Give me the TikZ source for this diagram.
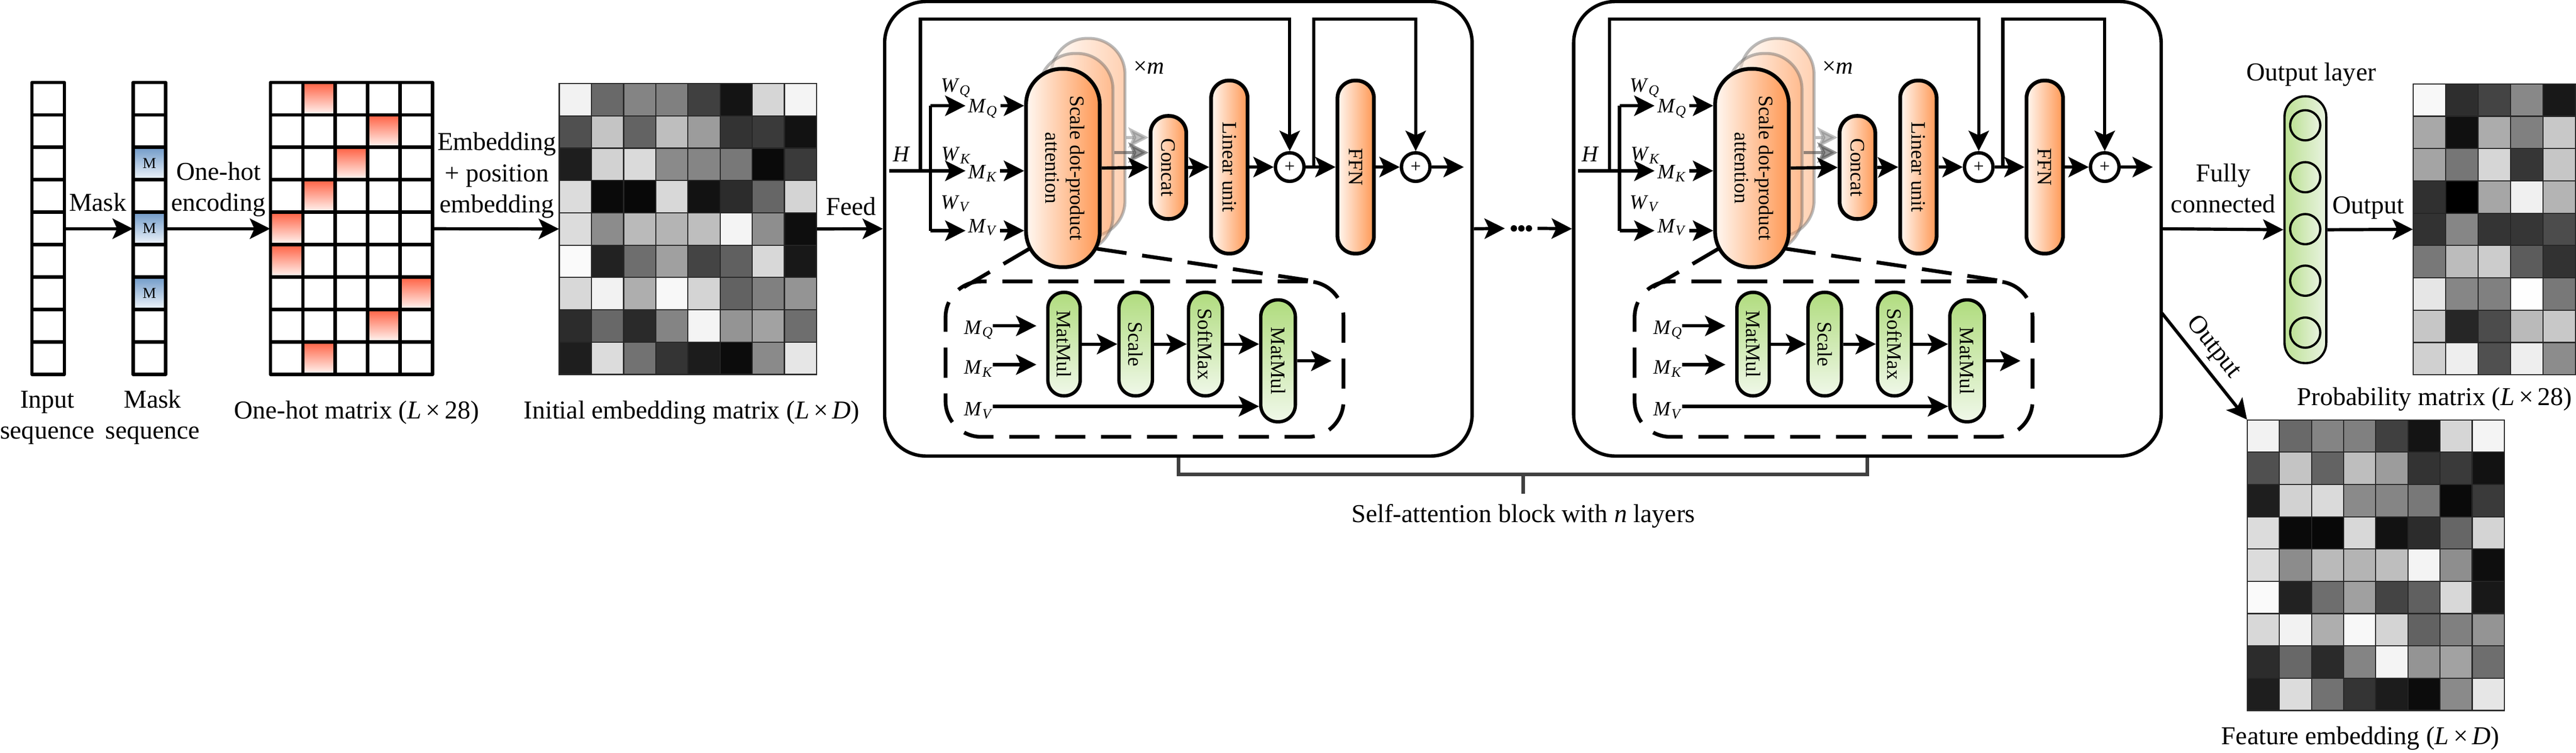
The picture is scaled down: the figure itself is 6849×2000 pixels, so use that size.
\documentclass[tikz,border=0pt]{standalone}
\usepackage{fontspec}
\setmainfont{Liberation Serif}
\usepackage{graphicx}
\usetikzlibrary{arrows.meta}

\definecolor{orangeL}{RGB}{255,248,242}
\definecolor{orangeR}{RGB}{255,152,84}
\definecolor{greenT}{RGB}{176,220,126}
\definecolor{greenB}{RGB}{240,248,233}
\definecolor{greenL}{RGB}{188,225,148}
\definecolor{greenR}{RGB}{233,243,224}
\definecolor{blueT}{RGB}{112,154,200}
\definecolor{blueB}{RGB}{240,245,251}
\definecolor{redT}{RGB}{255,96,66}
\definecolor{redB}{RGB}{255,247,244}
\definecolor{brkgray}{RGB}{64,64,64}

% gray levels, one group per row
\newcommand{\embrows}{{242,105,132,128,64,20,214,244},{80,196,99,190,156,51,58,18},{30,210,218,138,133,120,10,58},{220,10,8,216,18,44,102,212},{220,140,186,180,190,244,142,14},{250,34,110,160,68,96,216,24},{216,242,174,248,212,98,128,148},{44,104,42,132,244,148,162,110},{30,220,114,52,28,12,138,230}}
\newcommand{\probrows}{{248,46,68,136,24},{168,16,172,128,200},{164,118,214,54,198},{48,0,166,240,180},{50,134,52,54,76},{120,188,204,92,50},{230,134,128,254,120},{198,38,76,186,200},{208,238,80,238,140}}

\tikzset{
  cell/.style={draw, line width=0.9mm, line join=round},
  thincell/.style={draw=black!85, line width=0.3mm},
  matbox/.style={inner sep=0, draw=none},
  arr/.style={line width=0.85mm, -{Stealth[length=5.4mm, width=5.4mm, inset=1.2mm]}},
  conn/.style={line width=0.85mm},
  lab/.style={font=\fontsize{19.5}{23.5}\selectfont, inner sep=0, align=center},
  opill/.style={draw, line width=1mm, left color=orangeL, right color=orangeR, inner sep=0, font=\fontsize{15.5}{18.5}\selectfont},
  gpill/.style={draw, line width=0.9mm, top color=greenT, bottom color=greenB, inner sep=0, font=\fontsize{15.5}{18.5}\selectfont},
  ghostpill/.style={draw=gray!80!black, line width=0.8mm, opacity=0.45},
  plusnode/.style={circle, draw, line width=0.9mm, minimum size=7.6mm, inner sep=0, font=\fontsize{14}{14}\selectfont},
  blockbox/.style={draw, line width=0.9mm, rounded corners=11mm, inner sep=0},
  dashbox/.style={draw, line width=1mm, dash pattern=on 8mm off 4.2mm, rounded corners=9.5mm, inner sep=0},
  dashline/.style={line width=1mm, dash pattern=on 8mm off 4.2mm},
  mathlab/.style={font=\fontsize{15.5}{15.5}\selectfont, inner sep=0.7mm},
  brk/.style={draw=brkgray, line width=1mm},
  neuron/.style={circle, draw, line width=0.6mm, minimum size=8mm, inner sep=0, left color=greenL, right color=greenR},
}

\begin{document}
\begin{tikzpicture}[x=0.1mm, y=-0.1mm]
\useasboundingbox (0,0) rectangle (6849,2000);

% input, mask and one-hot
\node[matbox, minimum width=8.62mm, minimum height=77.6mm] (inseq) at (128.1,607.9) {};
\node[matbox, minimum width=8.62mm, minimum height=77.6mm] (mskseq) at (397.1,607.9) {};
\node[matbox, minimum width=43.1mm, minimum height=77.6mm] (onehot) at (934.5,607.9) {};

\foreach \r in {2,4,6}
  \shade[top color=blueT, bottom color=blueB] (354,{219+86.2*\r}) rectangle ++(86.2,86.2);
\foreach \c [count=\r from 0] in {1,3,2,1,0,0,4,3,1}
  \shade[top color=redT, bottom color=redB] ({719+86.2*\c},{219+86.2*\r}) rectangle ++(86.2,86.2);
\foreach \r in {0,...,8} {
  \draw[cell] (85,{219+86.2*\r}) rectangle ++(86.2,86.2);
  \draw[cell] (354,{219+86.2*\r}) rectangle ++(86.2,86.2);
  \foreach \c in {0,...,4}
    \draw[cell] ({719+86.2*\c},{219+86.2*\r}) rectangle ++(86.2,86.2);
}
\foreach \r in {2,4,6}
  \node[font=\fontsize{11.5}{11.5}\selectfont] (m\r) at (397.1,{262+86.2*\r}) {M};

% grey matrices
\node[matbox, minimum width=68.4mm, minimum height=77.3mm] (emb) at (1829,608.5) {};
\node[matbox, minimum width=43.1mm, minimum height=77.3mm] (prob) at (6631.5,609.5) {};
\node[matbox, minimum width=68.3mm, minimum height=77.2mm] (feat) at (6316.5,1502) {};
\foreach \row [count=\r from 0] in \embrows {
  \foreach \v [count=\c from 0] in \row {
    \filldraw[thincell, fill={rgb,255:red,\v;green,\v;blue,\v}] ({1487+85.5*\c},{222+85.9*\r}) rectangle ++(85.5,85.9);
    \filldraw[thincell, fill={rgb,255:red,\v;green,\v;blue,\v}] ({5975+85.4*\c},{1116+85.8*\r}) rectangle ++(85.4,85.8);
  }
}
\foreach \row [count=\r from 0] in \probrows {
  \foreach \v [count=\c from 0] in \row
    \filldraw[thincell, fill={rgb,255:red,\v;green,\v;blue,\v}] ({6416+86.2*\c},{223+85.9*\r}) rectangle ++(86.2,85.9);
}

% self-attention blocks
\foreach \nb/\bx in {1/2352,2/4184} {
\begin{scope}[shift={(\bx,0)}]
  \node[blockbox, minimum width=156.2mm, minimum height=120.8mm] (blk\nb) at (781,608) {};

  % heads
  \node[opill, ghostpill, minimum width=19.6mm, minimum height=52.7mm, rounded corners=9.5mm] (attc\nb) at (541,365.5) {};
  \node[opill, ghostpill, minimum width=19.6mm, minimum height=52.7mm, rounded corners=9.5mm] (attb\nb) at (509,405.5) {};
  \node[opill, minimum width=9.5mm, minimum height=27.4mm, rounded corners=4.6mm] (cc\nb) at (754.5,445) {\rotatebox{-90}{Concat}};
  \draw[arr, draw=gray, opacity=0.5] (attc\nb.east) -- (attc\nb.east -| cc\nb.west);
  \draw[arr, draw=gray!60!black, opacity=0.6] (attb\nb.east) -- (attb\nb.east -| cc\nb.west);
  \node[opill, minimum width=19.6mm, minimum height=52.7mm, rounded corners=9.5mm] (att\nb) at (474,446.5)
    {\rotatebox{-90}{\begin{tabular}{@{}c@{}}Scale dot-product\\attention\end{tabular}}};
  \node[mathlab, anchor=base west, font=\fontsize{18}{18}\selectfont] (xm\nb) at (654,196) {×\textit{m}};

  \node[opill, minimum width=9.7mm, minimum height=46mm, rounded corners=4.7mm] (lin\nb) at (916.5,444) {\rotatebox{-90}{Linear unit}};
  \node[plusnode] (p1\nb) at (1077,444) {+};
  \node[opill, minimum width=9.7mm, minimum height=46mm, rounded corners=4.7mm] (ffn\nb) at (1252.5,444) {\rotatebox{-90}{FFN}};
  \node[plusnode] (p2\nb) at (1412,444) {+};

  % input H and projections
  \coordinate (hin\nb) at (12,454);
  \coordinate (sk\nb) at (95,454);
  \coordinate (rq\nb) at (122,281);
  \coordinate (rv\nb) at (122,613);
  \coordinate (sk2\nb) at (1141,444);
  \coordinate (bo\nb) at (1540,444);
  \node[mathlab, anchor=base, font=\fontsize{17}{17}\selectfont] (h\nb) at (45,429) {\textit{H}};
  \node[mathlab, anchor=base west] (wq\nb) at (142,245) {\textit{W}\textsubscript{\textit{Q}}};
  \node[mathlab, anchor=base west] (wk\nb) at (144,427) {\textit{W}\textsubscript{\textit{K}}};
  \node[mathlab, anchor=base west] (wv\nb) at (142,555) {\textit{W}\textsubscript{\textit{V}}};
  \node[mathlab, anchor=base west] (mq\nb) at (215,299) {\textit{M}\textsubscript{\textit{Q}}};
  \node[mathlab, anchor=base west] (mk\nb) at (215,475) {\textit{M}\textsubscript{\textit{K}}};
  \node[mathlab, anchor=base west] (mv\nb) at (215,618) {\textit{M}\textsubscript{\textit{V}}};

  \draw[conn] (rq\nb) -- (rv\nb);
  \draw[arr] (hin\nb) -- (hin\nb -| mk\nb.west);
  \draw[arr] (rq\nb) -- (rq\nb -| mq\nb.west);
  \draw[arr] (rv\nb) -- (rv\nb -| mv\nb.west);
  \draw[arr] (rq\nb -| mq\nb.east) -- (rq\nb -| att\nb.west);
  \draw[arr] (hin\nb -| mk\nb.east) -- (hin\nb -| att\nb.west);
  \draw[arr] (rv\nb -| mv\nb.east) -- (rv\nb -| att\nb.west);

  \draw[arr] (att\nb.east) -- (cc\nb.west);
  \draw[arr] (cc\nb.east) -- (lin\nb.west);
  \draw[arr] (lin\nb.east) -- (p1\nb.west);
  \draw[arr] (p1\nb.east) -- (ffn\nb.west);
  \draw[arr] (ffn\nb.east) -- (p2\nb.west);
  \draw[arr] (p2\nb.east) -- (bo\nb);
  \draw[arr] (sk\nb) -- (95,51) -| (p1\nb.north);
  \draw[arr] (sk2\nb) -- (1141,51) -| (p2\nb.north);

  % inside of the attention
  \node[dashbox, minimum width=105.8mm, minimum height=41.3mm] (dbx\nb) at (691,954.5) {};
  \coordinate (dl\nb) at (385,661);
  \coordinate (dlb\nb) at (206,766);
  \coordinate (dr\nb) at (564,661);
  \coordinate (drb\nb) at (1160,750);
  \draw[dashline] (dl\nb) -- (dlb\nb);
  \draw[dashline] (dr\nb) -- (drb\nb);

  \node[gpill, minimum width=8.6mm, minimum height=27.5mm, rounded corners=4.2mm] (mm\nb) at (477,914.5) {\rotatebox{-90}{MatMul}};
  \node[gpill, minimum width=8.9mm, minimum height=27.5mm, rounded corners=4.3mm] (sc\nb) at (667.5,914.5) {\rotatebox{-90}{Scale}};
  \node[gpill, minimum width=9.0mm, minimum height=27.5mm, rounded corners=4.4mm] (sm\nb) at (853,914.5) {\rotatebox{-90}{SoftMax}};
  \node[gpill, minimum width=9.2mm, minimum height=32.4mm, rounded corners=4.5mm] (mmb\nb) at (1046,959) {\rotatebox{-90}{MatMul}};

  \node[mathlab, anchor=base west] (iq\nb) at (204,888) {\textit{M}\textsubscript{\textit{Q}}};
  \node[mathlab, anchor=base west] (ik\nb) at (204,994) {\textit{M}\textsubscript{\textit{K}}};
  \node[mathlab, anchor=base west] (iv\nb) at (204,1105) {\textit{M}\textsubscript{\textit{V}}};
  \coordinate (iqr\nb) at (288,866);
  \coordinate (ikr\nb) at (288,969);
  \coordinate (ivr\nb) at (288,1080);
  \coordinate (mo\nb) at (1188,959);

  \draw[arr, shorten >=2.6mm] (iqr\nb) -- (iqr\nb -| mm\nb.west);
  \draw[arr, shorten >=2.6mm] (ikr\nb) -- (ikr\nb -| mm\nb.west);
  \draw[arr] (ivr\nb) -- (ivr\nb -| mmb\nb.west);
  \draw[arr] (mm\nb.east) -- (sc\nb.west);
  \draw[arr] (sc\nb.east) -- (sm\nb.west);
  \draw[arr] (sm\nb.east) -- (sm\nb.east -| mmb\nb.west);
  \draw[arr] (mmb\nb.east) -- (mo\nb);
\end{scope}
}

% between the blocks
\coordinate (dtl) at (4001,607);
\coordinate (dtr) at (4088,607);
\draw[arr] (blk1.east) -- (dtl);
\draw[arr] (dtr) -- (blk2.west);
\foreach \x in {4025,4045,4065}
  \fill (\x,607) circle [radius=8.5];

% bracket under the blocks
\coordinate (bmid) at (4050,1261);
\draw[brk] (blk1.south) -- (blk1.south |- bmid) -- (blk2.south |- bmid) -- (blk2.south);
\draw[brk] (bmid) -- ++(0,51);

% output layer
\node[draw, line width=0.6mm, left color=greenL, right color=greenR, minimum width=11.1mm, minimum height=70.9mm, rounded corners=5.4mm, inner sep=0] (outl) at (6129.5,610.5) {};
\foreach \y [count=\k] in {333,471,609,746,884}
  \node[neuron] (n\k) at (6129,\y) {};

% main arrows
\coordinate (fo) at (5748,832);
\draw[arr] (inseq.east) -- (mskseq.west);
\draw[arr] (mskseq.east) -- (onehot.west);
\draw[arr] (onehot.east) -- (emb.west);
\draw[arr] (emb.east) -- (blk1.west);
\draw[arr] (blk2.east) -- (outl.west);
\draw[arr] (outl.east) -- (prob.west);
\draw[arr] (fo) -- (feat.north west);

% labels (base = last line)
\node[lab, rotate=-51.6] (tdiag) at (5884,923) {Output};
\node[lab, anchor=base] (tin) at (126,1167) {Input\\sequence};
\node[lab, anchor=base] (tmsk) at (406,1167) {Mask\\sequence};
\node[lab, anchor=base] (tmask) at (260,561) {Mask};
\node[lab, anchor=base] (tenc) at (581,561) {One-hot\\encoding};
\node[lab, anchor=base] (tohm) at (948,1113) {One-hot matrix (\textit{L}\,×\,28)};
\node[lab, anchor=base] (temb) at (1321,565) {Embedding\\+ position\\embedding};
\node[lab, anchor=base] (tinit) at (1839,1113) {Initial embedding matrix (\textit{L}\,×\,\textit{D})};
\node[lab, anchor=base] (tfeed) at (2263,572) {Feed};
\node[lab, anchor=base] (tsab) at (4050,1388) {Self-attention block with \textit{n} layers};
\node[lab, anchor=base] (tfc) at (5911,565) {Fully\\connected};
\node[lab, anchor=base] (tol) at (6145,214) {Output layer};
\node[lab, anchor=base] (tout) at (6297,568) {Output};
\node[lab, anchor=base] (tprob) at (6473,1077) {Probability matrix (\textit{L}\,×\,28)};
\node[lab, anchor=base] (tfeat) at (6276,1978) {Feature embedding (\textit{L}\,×\,\textit{D})};
\end{tikzpicture}
\end{document}
